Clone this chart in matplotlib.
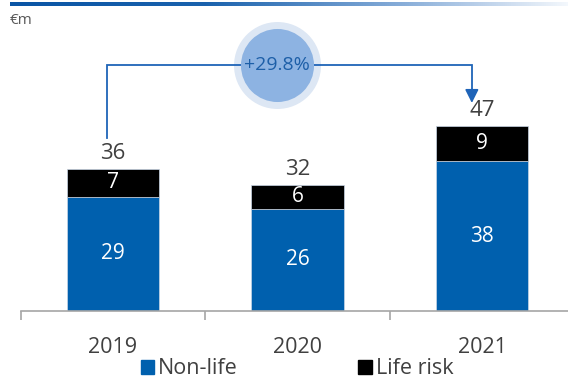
import matplotlib
matplotlib.use("Agg")
import matplotlib.pyplot as plt
import numpy as np
from matplotlib.colors import LinearSegmentedColormap
from matplotlib.patches import Patch

plt.rcParams['font.family'] = ['Open Sans', 'DejaVu Sans']

years = ['2019', '2020', '2021']
non_life = [29, 26, 38]
life_risk = [7, 6, 9]
growth_label = '+29.8%'

blue = '#0060ae'
grey_text = '#404040'
arrow_blue = '#1f64b8'

fig = plt.figure(figsize=(5.68, 3.8), dpi=100)

# main axes: baseline at y=311px, 3.94 px per unit, category width 184.5 px
left_px, step_px = 20.75, 184.5
ax = fig.add_axes([left_px / 568, 1 - 311 / 380, (568 - left_px) / 568, 311 / 380])
ax.set_facecolor('none')

# gradient strip along the top edge
strip = fig.add_axes([10 / 568, 1 - 6 / 380, 558 / 568, 4 / 380])
grad = np.linspace(0, 1, 512).reshape(1, -1)
cmap = LinearSegmentedColormap.from_list(
    'strip', [(0, '#0a55a5'), (0.35, '#1a62ad'), (0.7, '#86acd8'), (1, '#f3f7fc')])
strip.imshow(grad, aspect='auto', cmap=cmap)
strip.axis('off')

fig.text(10 / 568, 1 - 20 / 380, '€m', fontsize=11, color='#595959', va='center')

x = np.arange(len(years))
totals = [a + b for a, b in zip(non_life, life_risk)]

ax.bar(x, non_life, width=0.5, color=blue, edgecolor='#c9d6e6', linewidth=0.5, zorder=2)
ax.bar(x, life_risk, width=0.5, bottom=non_life, color='black',
       edgecolor='#c9d6e6', linewidth=0.5, zorder=2)

for i in x:
    ax.text(i, non_life[i] / 2, str(non_life[i]), ha='center', va='center',
            color='white', fontsize=15, zorder=3)
    ax.text(i, non_life[i] + life_risk[i] / 2, str(life_risk[i]), ha='center',
            va='center', color='white', fontsize=15, zorder=3)
    ax.annotate(str(totals[i]), (i, totals[i]), xytext=(0, 11),
                textcoords='offset points', ha='center', va='center',
                color=grey_text, fontsize=16)

ax.set_xlim(-0.5, (568 - left_px) / step_px - 0.5)
ax.set_ylim(0, 311 / 3.94)

# growth connector from first to last bar
top_y = 62.5
x0, x1 = x[0] - 0.03, x[-1] - 0.055
ax.plot([x0, x0, x1, x1], [totals[0] + 7.9, top_y, top_y, totals[-1] + 9],
        color=arrow_blue, lw=1.3, zorder=4, solid_joinstyle='miter')
ax.annotate('', xy=(x1, totals[-1] + 5.8), xytext=(x1, totals[-1] + 9.2),
            arrowprops=dict(arrowstyle='-|>,head_length=0.8,head_width=0.4',
                            color=arrow_blue, lw=1.3, shrinkA=0, shrinkB=0),
            zorder=4)
cx = 0.89
ax.scatter([cx], [top_y], s=3920, color='#dde7f4', zorder=3, linewidths=0)
ax.scatter([cx], [top_y], s=2766, color='#8db3e2', zorder=5, linewidths=0)
ax.text(cx, top_y, growth_label, ha='center', va='center', color='#1d5fa8',
        fontsize=14, zorder=6)

for s in ['top', 'right', 'left']:
    ax.spines[s].set_visible(False)
ax.spines['bottom'].set_color('#a6a6a6')
ax.spines['bottom'].set_linewidth(1.2)
ax.set_yticks([])
ax.set_xticks(x)
ax.set_xticklabels(years, fontsize=15.5, color=grey_text)
ax.tick_params(axis='x', which='major', length=0, pad=19)
ax.set_xticks(np.arange(-0.5, len(years) - 0.5), minor=True)
ax.tick_params(axis='x', which='minor', length=6.5, color='#a6a6a6', width=1.2)

handles = [Patch(color=blue, label='Non-life'), Patch(color='black', label='Life risk')]
fig.legend(handles=handles, loc='center', bbox_to_anchor=(0.523, 1 - 369 / 380),
           ncol=2, frameon=False, fontsize=15.5, handlelength=0.63, handleheight=0.63,
           handletextpad=0.18, columnspacing=5.6, labelcolor=grey_text,
           borderpad=0, borderaxespad=0)

fig.savefig('out.png', dpi=100)
